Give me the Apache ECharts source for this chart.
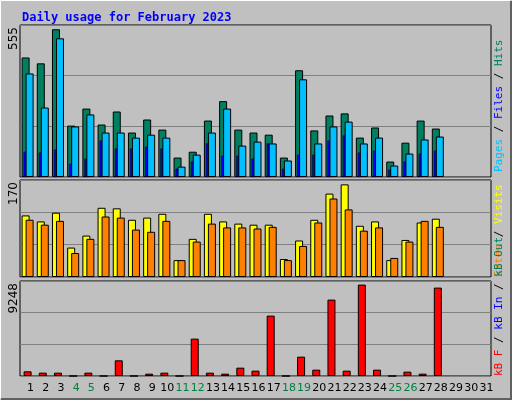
<!DOCTYPE html>
<html>
<head>
<meta charset="utf-8">
<script src="https://cdn.jsdelivr.net/npm/echarts@6/dist/echarts.min.js"></script>
<style>html,body{margin:0;padding:0;background:#c0c0c0;}#main{width:512px;height:400px;}</style>
</head>
<body>
<div id="main"></div>
<script>
// 日期 1..31
var days = [];
for (var i = 1; i <= 31; i++) days.push(String(i));
var weekend = [4,5,11,12,18,19,25,26];

// 每日数据 (2月只有28天)
var hits   = [449,427,555,193,257,197,246,167,216,178,73,95,212,285,178,167,159,73,401,175,231,239,148,186,58,129,212,182];
var files  = [389,261,521,190,235,167,167,148,159,148,39,84,167,257,118,133,126,62,367,126,190,208,126,148,43,88,141,152];
var pages  = [95,92,103,50,69,137,107,107,114,107,31,58,126,80,80,69,126,31,84,84,137,156,92,99,28,58,88,99];
var visits = [113,102,118,54,76,127,126,105,109,116,31,70,116,102,98,96,96,33,67,105,153,170,94,102,31,68,100,107];
var sites  = [105,96,103,44,70,111,109,87,83,103,31,65,98,91,91,89,92,31,57,100,144,124,85,91,35,65,103,92];
var kbytes = [473,338,338,0,338,0,1586,0,236,338,0,3780,338,236,844,540,6109,0,1958,641,7729,540,9248,641,0,439,236,8944];

var maxTop = 571, maxMid = 178, maxBot = 9612;
var border = {borderColor:'#000', borderWidth:1};

var chart = echarts.init(document.getElementById('main'));

function yAx(idx, max){
	return {gridIndex:idx, min:0, max:max, interval:max/3, axisLabel:{show:false}, axisLine:{show:false}, axisTick:{show:false},
		splitLine:{lineStyle:{color:'#808080', width:1}}};
}
function xAx(idx, labels){
	return {gridIndex:idx, type:'category', data:days, axisLine:{show:false}, axisTick:{show:false},
		axisLabel:{show:labels, margin:7, interval:0, fontFamily:'DejaVu Sans', fontSize:11, padding:[0,0,0,6],
			color:function(v){return weekend.indexOf(+v) >= 0 ? '#008040' : '#000';}}};
}
function vtext(x, y, parts){
	var rich = {}, s = '';
	parts.forEach(function(p, i){ rich['p'+i] = {fill:p[1], font:'11px "DejaVu Sans Mono"'}; s += '{p'+i+'|'+p[0]+'}'; });
	return {type:'text', x:x, y:y, rotation:Math.PI/2, style:{text:s, rich:rich}};
}
function ltext(y, t){
	return {type:'text', x:8, y:y, rotation:Math.PI/2, style:{text:t, fill:'#000', font:'12px "DejaVu Sans"', align:'right'}};
}

var option = {
	backgroundColor:'#c0c0c0',
	animation:false,
	title:{text:'Daily usage for February 2023', left:17, top:7,
		textStyle:{color:'#0000ff', fontFamily:'DejaVu Sans Mono', fontWeight:'bold', fontSize:12}},
	grid:[
		{left:20, width:471, top:25, height:152, show:true, backgroundColor:'#c0c0c0', borderColor:'#000'},
		{left:20, width:471, top:180, height:97, show:true, backgroundColor:'#c0c0c0', borderColor:'#000'},
		{left:20, width:471, top:281, height:95, show:true, backgroundColor:'#c0c0c0', borderColor:'#000'}
	],
	xAxis:[xAx(0,false), xAx(1,false), xAx(2,true), xAx(0,false)],
	yAxis:[yAx(0,maxTop), yAx(1,maxMid), yAx(2,maxBot), yAx(0,maxTop)],
	series:[
		{name:'Hits', type:'bar', xAxisIndex:0, yAxisIndex:0, barWidth:8, barGap:'-50%', data:hits, itemStyle:Object.assign({color:'#008060'}, border), z:2},
		{name:'Files', type:'bar', xAxisIndex:0, yAxisIndex:0, barWidth:8, barGap:'-50%', data:files, itemStyle:Object.assign({color:'#00c0ff'}, border), z:4},
		{name:'Pages', type:'bar', xAxisIndex:3, yAxisIndex:3, barWidth:3, barGap:'0%', data:pages, itemStyle:{color:'#0000ff', borderColor:'#000', borderWidth:0.5}, z:3},
		{name:'pad', type:'bar', xAxisIndex:3, yAxisIndex:3, barWidth:5, barGap:'0%', data:[], silent:true},
		{name:'Visits', type:'bar', xAxisIndex:1, yAxisIndex:1, barWidth:8, barGap:'-50%', data:visits, itemStyle:Object.assign({color:'#ffff00'}, border)},
		{name:'Sites', type:'bar', xAxisIndex:1, yAxisIndex:1, barWidth:8, barGap:'-50%', data:sites, itemStyle:Object.assign({color:'#ff8000'}, border)},
		{name:'kB F', type:'bar', xAxisIndex:2, yAxisIndex:2, barWidth:8, data:kbytes, itemStyle:Object.assign({color:'#ff0000'}, border)}
	],
	graphic:[
		{type:'rect', shape:{x:0.5, y:0.5, width:510, height:398}, style:{fill:null, stroke:'#ffffff', lineWidth:1}},
		{type:'polyline', shape:{points:[[511,1],[511,399],[1,399]]}, style:{stroke:'#606060', lineWidth:2, fill:null}},
		ltext(27, '555'), ltext(182, '170'), ltext(283, '9248'),
		vtext(494, 172, [['Pages','#00c0ff'],[' / ','#000'],['Files','#0000ff'],[' / ','#000'],['Hits','#008060']]),
		vtext(494, 277, [['Sites','#ff8000'],[' / ','#000'],['Visits','#ffff00']]),
		vtext(494, 376, [['kB F','#ff0000'],[' / ','#000'],['kB In','#0000ff'],[' / ','#000'],['kB Out','#008060']])
	]
};
chart.setOption(option);
</script>
</body>
</html>
